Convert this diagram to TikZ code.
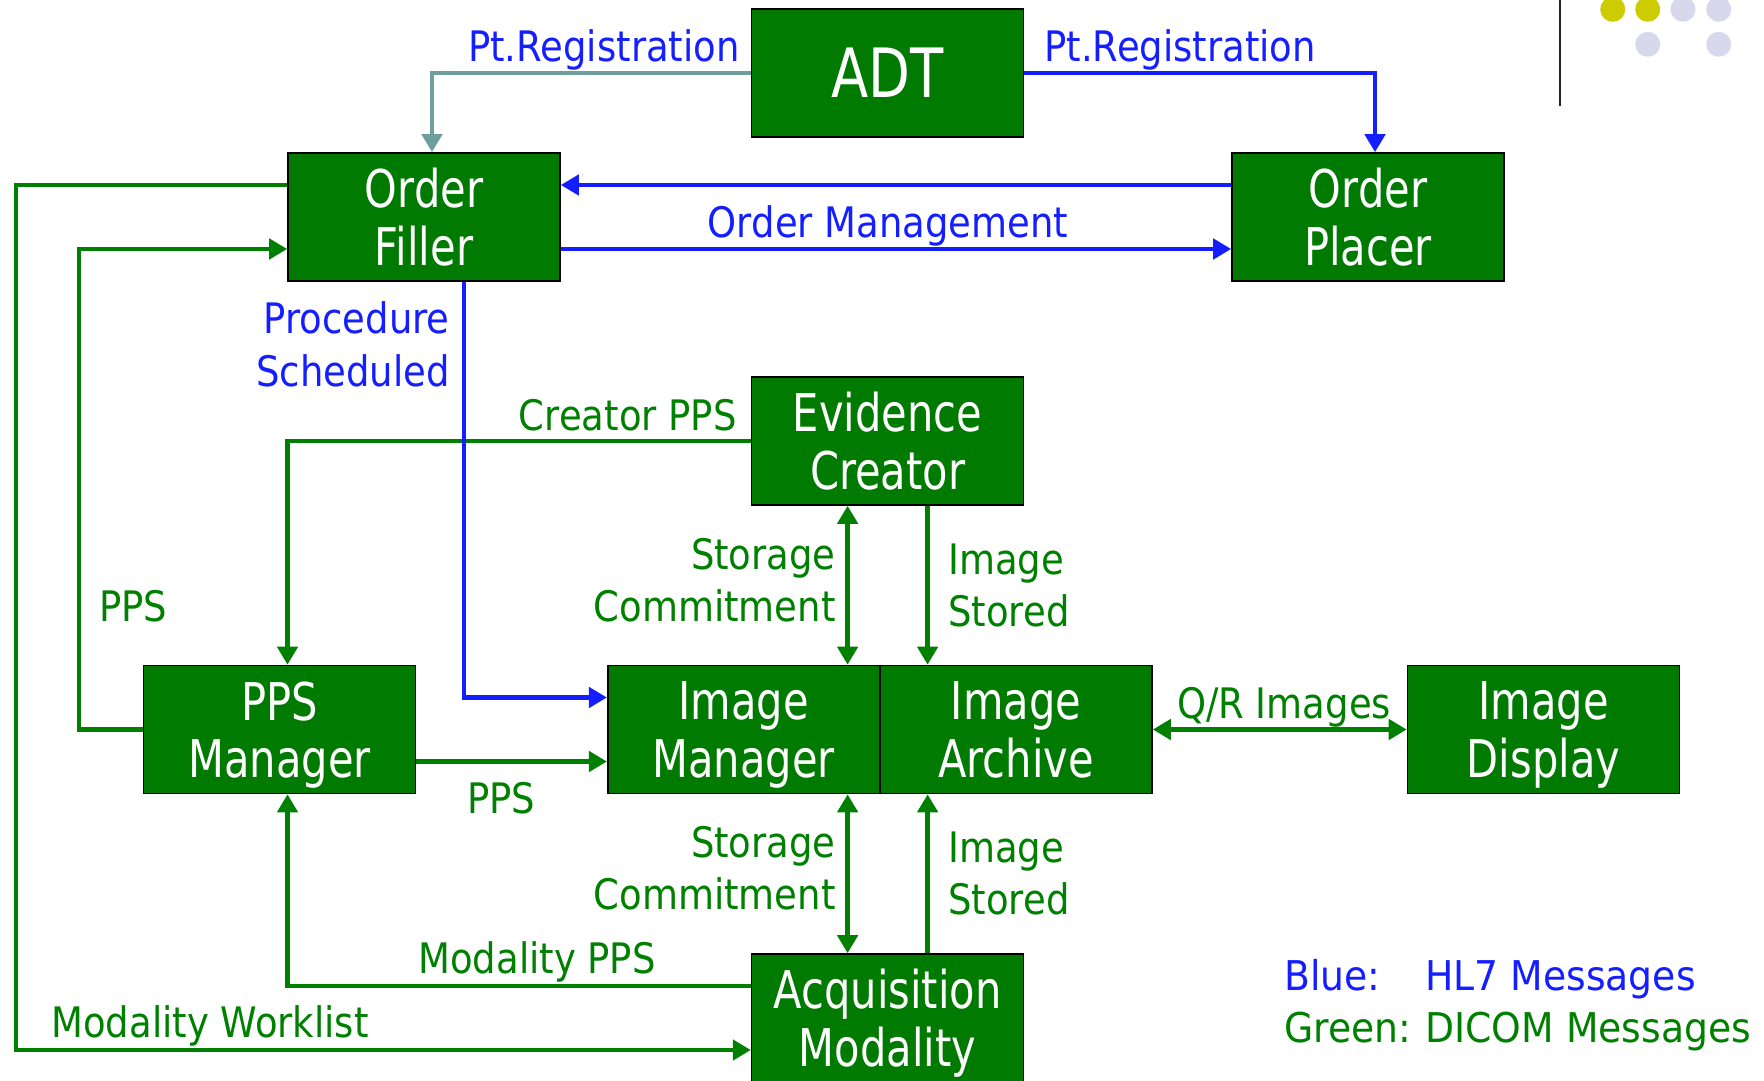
\documentclass[tikz,border=0pt]{standalone}
\usepackage{fontspec}
\usetikzlibrary{arrows.meta}
\newfontfamily\lblfont[FakeStretch=0.88]{DejaVu Sans}
\newfontfamily\boxfont[FakeStretch=0.8]{DejaVu Sans}
\newfontfamily\keyfont[FakeStretch=0.92]{DejaVu Sans}
\definecolor{boxgreen}{RGB}{0,122,0}
\definecolor{dcgreen}{RGB}{0,128,0}
\definecolor{hlblue}{RGB}{20,30,255}
\definecolor{regteal}{RGB}{110,158,158}
\definecolor{dotyellow}{RGB}{204,204,0}
\definecolor{dotlilac}{RGB}{216,216,236}
\tikzset{
  actor/.style={draw=black, line width=0.8pt, fill=boxgreen, text=white, minimum width=136pt,
    minimum height=64pt, inner sep=0pt, align=center, text depth=0pt, font=\boxfont\fontsize{26}{28.8}\selectfont},
  hl7/.style={draw=hlblue, line width=2.4pt},
  dicom/.style={draw=dcgreen, line width=2.4pt},
  regline/.style={draw=regteal, line width=2.4pt},
  hllbl/.style={text=hlblue, inner sep=0pt, font=\lblfont\fontsize{21}{26}\selectfont},
  dclbl/.style={text=dcgreen, inner sep=0pt, font=\lblfont\fontsize{21}{26}\selectfont},
  >={Triangle[length=9pt,width=10pt]}
}

\begin{document}
\begin{tikzpicture}[x=0.5pt, y=-0.5pt]
                \useasboundingbox (0,0) rectangle (1764,1080);
                \clip (0,0) rectangle (1764,1080);
                \draw[line width=1pt, black!85] (1560,0) -- (1560,106);
                \fill[dotyellow] (1612.7,9.3) circle[radius=6.25pt];
                \fill[dotyellow] (1647.7,9.3) circle[radius=6.25pt];
                \fill[dotlilac] (1683,9.3) circle[radius=6.25pt];
                \fill[dotlilac] (1718.7,9.3) circle[radius=6.25pt];
                \fill[dotlilac] (1647.7,44.3) circle[radius=6.25pt];
                \fill[dotlilac] (1718.7,44.3) circle[radius=6.25pt];

                \node[actor, font=\boxfont\fontsize{34}{36}\selectfont] (adt) at (887.6,73) {ADT};
                \node[actor] (filler) at (424,217) {Order\\Filler};
                \node[actor] (placer) at (1368,217) {Order\\Placer};
                \node[actor] (creator) at (887.6,441) {Evidence\\Creator};
                \node[actor] (ppsm) at (279.5,729.5) {PPS\\Manager};
                \node[actor] (imgmgr) at (743.75,729.5) {Image\\Manager};
                \node[actor] (archive) at (1016,729.5) {Image\\Archive};
                \node[actor] (display) at (1543.5,729.5) {Image\\Display};
                \node[actor] (modality) at (887.6,1018) {Acquisition\\Modality};

                \draw[dicom, ->] ([yshift=16pt]filler.west) -| (16,600) |- ([yshift=-16pt]modality.west);
                \draw[dicom, ->] (ppsm.west) -| (79,500) |- ([yshift=-16pt]filler.west);
                \draw[dicom, ->] (creator.west) -| ([xshift=4pt]ppsm.north);
                \draw[dicom, <->] ([xshift=-20pt]creator.south) -- ([xshift=-20pt]creator.south |- imgmgr.north);
                \draw[dicom, ->] ([xshift=20pt]creator.south) -- ([xshift=20pt]creator.south |- archive.north);
                \draw[dicom, <->] (archive.east) -- (display.west);
                \draw[dicom, ->] ([yshift=-16pt]ppsm.east) -- ([yshift=-16pt]imgmgr.west);
                \draw[dicom, <->] ([xshift=-20pt]modality.north) -- ([xshift=-20pt]modality.north |- imgmgr.south);
                \draw[dicom, ->] ([xshift=20pt]modality.north) -- ([xshift=20pt]modality.north |- archive.south);
                \draw[dicom, ->] ([yshift=16pt]modality.west) -| ([xshift=4pt]ppsm.south);

                \draw[regline, ->] (adt.west) -| ([xshift=4pt]filler.north);
                \draw[hl7, ->] (adt.east) -| ([xshift=3.5pt]placer.north);
                \draw[hl7, ->] ([yshift=16pt]placer.west) -- ([yshift=16pt]filler.east);
                \draw[hl7, ->] ([yshift=-16pt]filler.east) -- ([yshift=-16pt]placer.west);
                \draw[hl7, ->] ([xshift=20pt]filler.south) |- ([yshift=16pt]imgmgr.west);

                \node[hllbl, anchor=base east] (reglbla) at (740,62) {Pt.Registration};
                \node[hllbl, anchor=base west] (reglblb) at (1044,62) {Pt.Registration};
                \node[hllbl, anchor=base] (ordlbl) at (888,238) {Order Management};
                \node[hllbl, anchor=base east, align=right] (proclbl) at (450,386) {Procedure\\Scheduled};
                \node[dclbl, anchor=base east] (crlbl) at (737,430) {Creator PPS};
                \node[dclbl, anchor=base west] (ppslbla) at (99,621) {PPS};
                \node[dclbl, anchor=base east, align=right] (sclbla) at (836,621) {Storage\\Commitment};
                \node[dclbl, anchor=base west, align=left] (islbla) at (948,626) {Image\\Stored};
                \node[dclbl, anchor=base] (qrlbl) at (1284,718) {Q/R Images};
                \node[dclbl, anchor=base west] (ppslblb) at (467,813) {PPS};
                \node[dclbl, anchor=base east, align=right] (sclblb) at (836,909) {Storage\\Commitment};
                \node[dclbl, anchor=base west, align=left] (islblb) at (948,914) {Image\\Stored};
                \node[dclbl, anchor=base west] (mplbl) at (418,973) {Modality PPS};
                \node[dclbl, anchor=base west] (mwlbl) at (51,1037) {Modality Worklist};

                \node[anchor=base west, inner sep=0pt, font=\keyfont\fontsize{20.5}{26}\selectfont] (legend) at (1284,990)
                  {\begin{tabular}[t]{@{}l@{\hspace{7pt}}l@{}}
                   \textcolor{hlblue}{Blue:} & \textcolor{hlblue}{HL7 Messages}\\
                   \textcolor{dcgreen}{Green:} & \textcolor{dcgreen}{DICOM Messages}
                   \end{tabular}};
            \end{tikzpicture}
\end{document}
